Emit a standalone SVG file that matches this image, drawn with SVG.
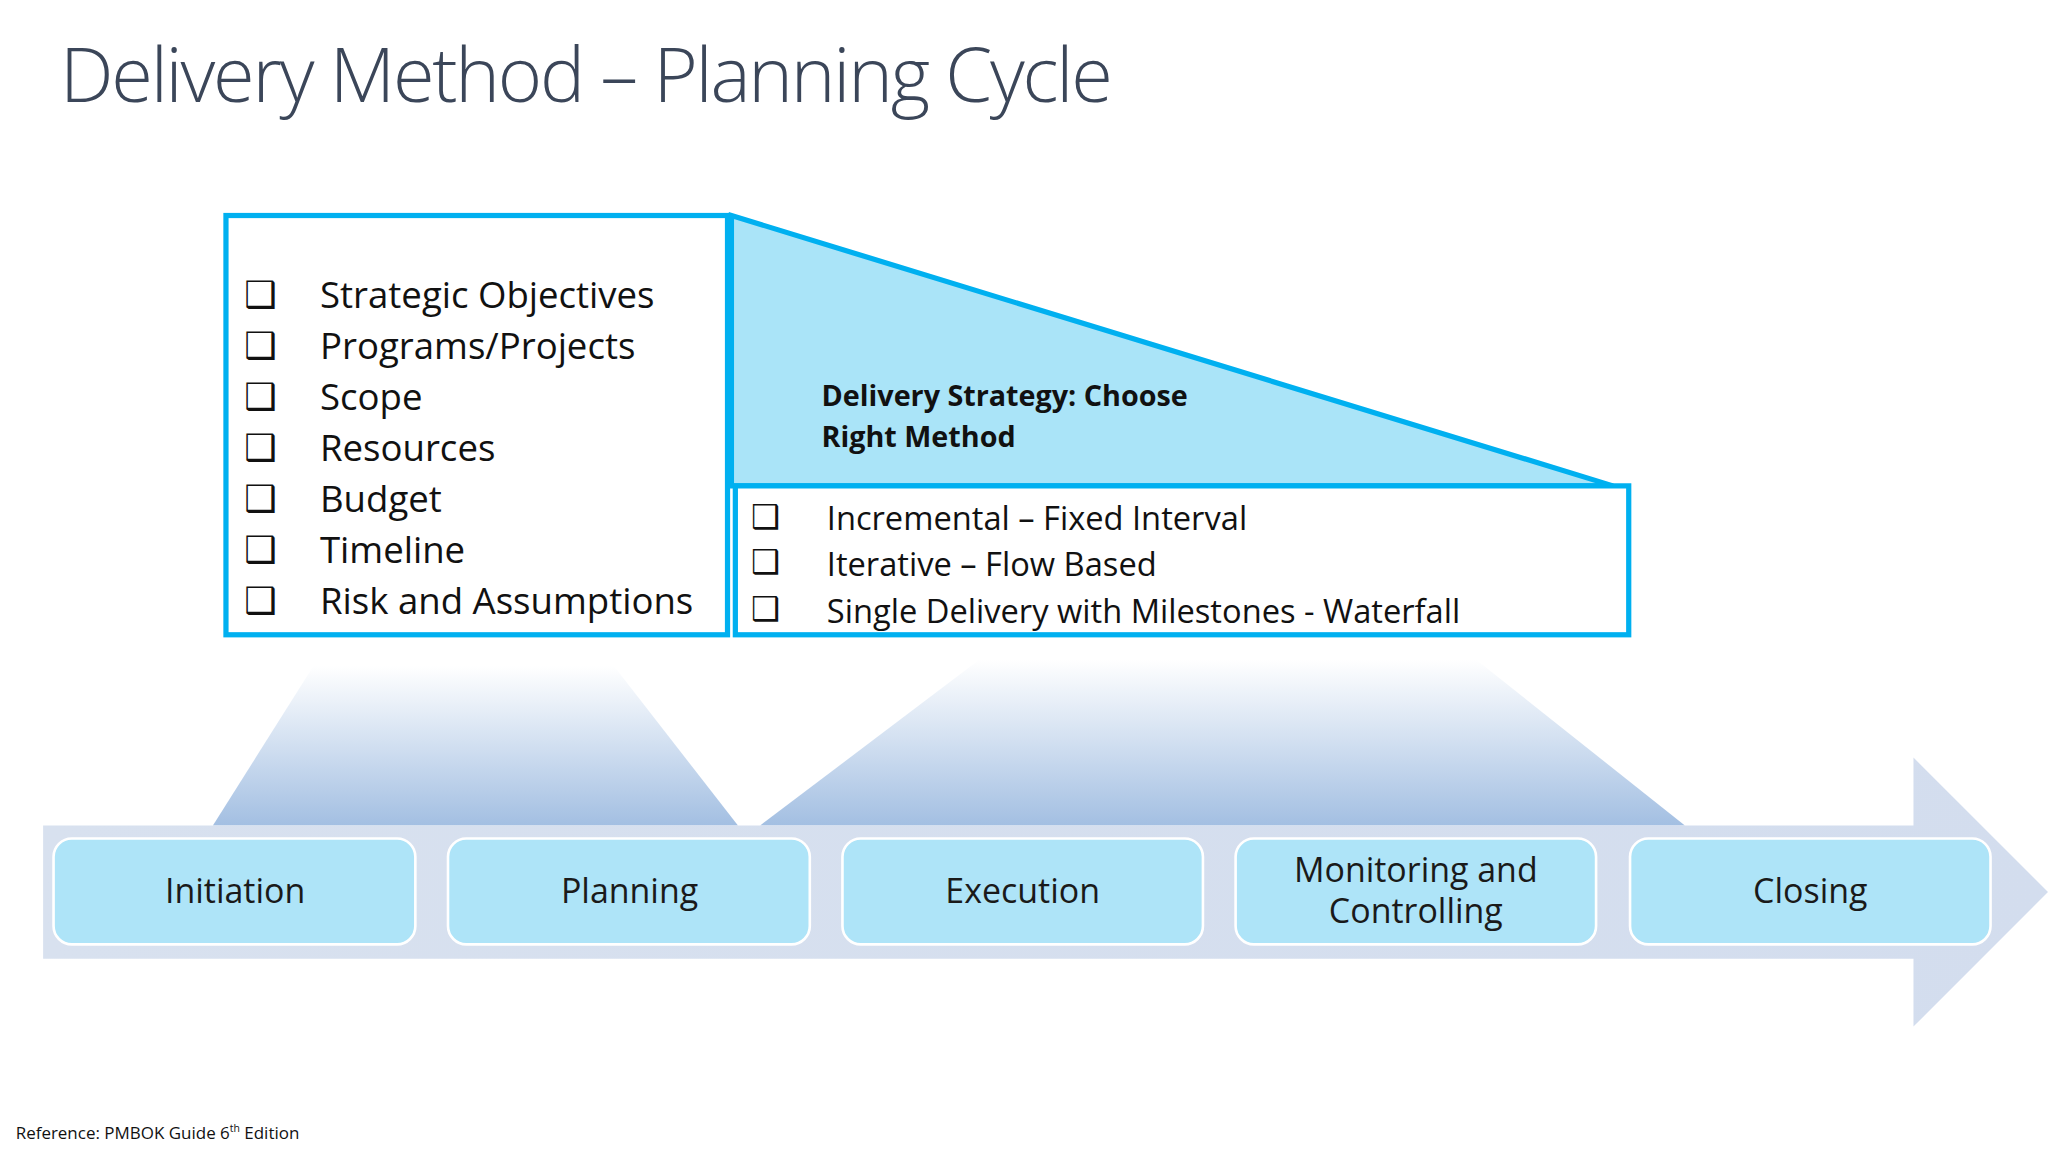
<svg xmlns="http://www.w3.org/2000/svg" width="2048" height="1152" viewBox="0 0 2048 1152">
<defs>
<linearGradient id="tg" x1="0" y1="0" x2="0" y2="1"><stop offset="0" stop-color="#ffffff"/><stop offset="1" stop-color="#a3bfe2"/></linearGradient>
<linearGradient id="ag" x1="0" y1="0" x2="1" y2="0"><stop offset="0" stop-color="#d8e1ef"/><stop offset="1" stop-color="#d3ddee"/></linearGradient>
<style>
.t{font-family:"Open Sans","Liberation Sans",sans-serif;fill:#111}
.cb{font-family:"DejaVu Sans",sans-serif;fill:#111}
.box{fill:#aee4f8;stroke:#ffffff;stroke-width:2}
.lb{font-family:"Open Sans","Liberation Sans",sans-serif;font-size:26px;fill:#1a1a1a;text-anchor:middle}
.bl{fill:#ffffff;stroke:#00b0f0;stroke-width:4}
</style>
</defs>
<rect width="2048" height="1152" fill="#ffffff"/>
<g transform="scale(1.30612)">
<text x="46" y="78" font-family="'Open Sans','Liberation Sans',sans-serif" font-weight="300" font-size="58" fill="#3b4659" textLength="806">Delivery Method – Planning Cycle</text>
<polygon points="163,632 565,632 470,510 240,510" fill="url(#tg)"/>
<polygon points="582,632 1290,632 1130,505 750,505" fill="url(#tg)"/>
<polygon points="33,632 1465,632 1465,580 1568,683 1465,786 1465,734 33,734" fill="url(#ag)"/>
<g id="n1"><rect class="box" x="41" y="642" width="277" height="81" rx="14"/><text class="lb" x="180" y="691">Initiation</text></g>
<g id="n2"><rect class="box" x="343" y="642" width="277" height="81" rx="14"/><text class="lb" x="482" y="691">Planning</text></g>
<g id="n3"><rect class="box" x="645" y="642" width="276" height="81" rx="14"/><text class="lb" x="783" y="691">Execution</text></g>
<g id="n4"><rect class="box" x="946" y="642" width="276" height="81" rx="14"/><text class="lb" x="1084" y="675">Monitoring and</text><text class="lb" x="1084" y="707">Controlling</text></g>
<g id="n5"><rect class="box" x="1248" y="642" width="276" height="81" rx="14"/><text class="lb" x="1386" y="691">Closing</text></g>
<g id="left"><rect class="bl" x="173" y="165" width="384" height="321"/>
<g class="cb" font-size="28"><text x="187" y="235">❑</text><text x="187" y="274">❑</text><text x="187" y="313">❑</text><text x="187" y="352">❑</text><text x="187" y="391">❑</text><text x="187" y="430">❑</text><text x="187" y="469">❑</text></g>
<g class="t" font-size="28"><text x="245" y="236">Strategic Objectives</text><text x="245" y="275">Programs/Projects</text><text x="245" y="314">Scope</text><text x="245" y="353">Resources</text><text x="245" y="392">Budget</text><text x="245" y="431">Timeline</text><text x="245" y="470">Risk and Assumptions</text></g></g>
<g id="tri"><polygon points="560,165 1235,372 560,372" fill="#aae4f8" stroke="#00b0f0" stroke-width="4"/>
<text class="t" font-size="22" font-weight="bold" x="629" y="311">Delivery Strategy: Choose</text><text class="t" font-size="22" font-weight="bold" x="629" y="342">Right Method</text></g>
<g id="right"><rect class="bl" x="563" y="372" width="684" height="114"/>
<g class="cb" font-size="25"><text x="575" y="404">❑</text><text x="575" y="439">❑</text><text x="575" y="475">❑</text></g>
<g class="t" font-size="25"><text x="633" y="406">Incremental – Fixed Interval</text><text x="633" y="441">Iterative – Flow Based</text><text x="633" y="477">Single Delivery with Milestones - Waterfall</text></g></g>
<text class="t" font-size="13" x="12" y="872">Reference: PMBOK Guide 6<tspan font-size="8" dy="-5">th</tspan><tspan dy="5"> Edition</tspan></text>
</g>
</svg>
